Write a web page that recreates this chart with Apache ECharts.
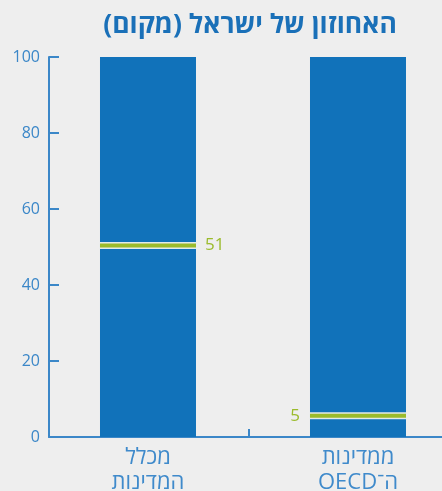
<!DOCTYPE html>
<html dir="rtl">
<head>
<meta charset="utf-8">
<script src="https://cdn.jsdelivr.net/npm/echarts@6/dist/echarts.min.js"></script>
<style>
html,body{margin:0;padding:0;background:#eeeeee;}
#c{position:absolute;left:0;top:0;width:442px;height:491px;}
</style>
</head>
<body>
<div id="c"></div>
<script>
const titleText = 'האחוזון של ישראל (מקום)';
const categories = ['מכלל\nהמדינות', 'ממדינות\nה־OECD'];
const barValues = [100, 100];
const markerValues = [50.4, 5.6];
const markerLabels = ['51', '5'];
const yTicks = [0, 20, 40, 60, 80, 100];

const BLUE = '#1172ba';
const AXIS = '#3b87c8';
const GREEN = '#9bbb2c';
const FONT = '"Open Sans", "DejaVu Sans", sans-serif';

// value-axis range so that the two bars sit where they do in the original
const X_MIN = -0.4714, X_MAX = 1.4286;

const chart = echarts.init(document.getElementById('c'), null, {renderer: 'canvas'});
chart.setOption({
  backgroundColor: '#eeeeee',
  animation: false,
  title: {
    text: titleText,
    left: 245, top: 7, textAlign: 'center',
    textStyle: {color: '#1a70b8', fontSize: 26.5, fontWeight: 'bold', fontFamily: FONT}
  },
  grid: {left: 49, right: -6, top: 57, bottom: 54, containLabel: false, outerBoundsMode: 'none'},
  xAxis: [
    {
      type: 'category',
      data: categories,
      axisLine: {onZero: false, lineStyle: {color: AXIS, width: 2}},
      axisTick: {show: true, inside: true, length: 8, lineStyle: {color: AXIS, width: 2}},
      axisLabel: {show: false}
    },
    {
      type: 'value',
      position: 'bottom',
      min: X_MIN, max: X_MAX,
      axisLine: {show: false, onZero: false},
      axisTick: {show: false},
      splitLine: {show: false},
      axisLabel: {
        show: true,
        customValues: categories.map((c, i) => i),
        formatter: v => categories[Math.round(v)] || '',
        color: '#3f8acb', fontSize: 22, lineHeight: 25, margin: 8, fontFamily: FONT
      }
    }
  ],
  yAxis: {
    type: 'value',
    position: 'left',
    min: yTicks[0], max: yTicks[yTicks.length - 1], interval: 20,
    axisLine: {show: true, onZero: false, lineStyle: {color: AXIS, width: 2}},
    axisTick: {show: true, inside: true, length: 10, lineStyle: {color: AXIS, width: 2}},
    axisLabel: {color: AXIS, fontSize: 16, margin: 9, fontFamily: FONT},
    splitLine: {show: false}
  },
  series: [
    {
      type: 'bar',
      xAxisIndex: 1,
      data: barValues.map((v, i) => [i, v]),
      barWidth: 96,
      itemStyle: {color: BLUE},
      silent: true
    },
    {
      type: 'custom',
      xAxisIndex: 1,
      data: markerValues.map((v, i) => [i, v]),
      renderItem: function (params, api) {
        const p = api.coord([api.value(0), api.value(1)]);
        const w = 96;
        const x0 = p[0] - w / 2;
        const right = params.dataIndex === 0;
        return {
          type: 'group',
          children: [
            {type: 'rect', shape: {x: x0, y: p[1] - 3.5, width: w, height: 7}, style: {fill: '#e4ebe8'}},
            {type: 'rect', shape: {x: x0, y: p[1] - 2, width: w, height: 4}, style: {fill: GREEN}},
            {
              type: 'text',
              x: right ? x0 + w + 9 : x0 - 10,
              y: p[1],
              style: {
                text: markerLabels[params.dataIndex],
                fill: GREEN, fontSize: 17, fontFamily: FONT,
                align: right ? 'left' : 'right', verticalAlign: 'middle'
              }
            }
          ]
        };
      },
      z: 5
    }
  ]
});
</script>
</body>
</html>
